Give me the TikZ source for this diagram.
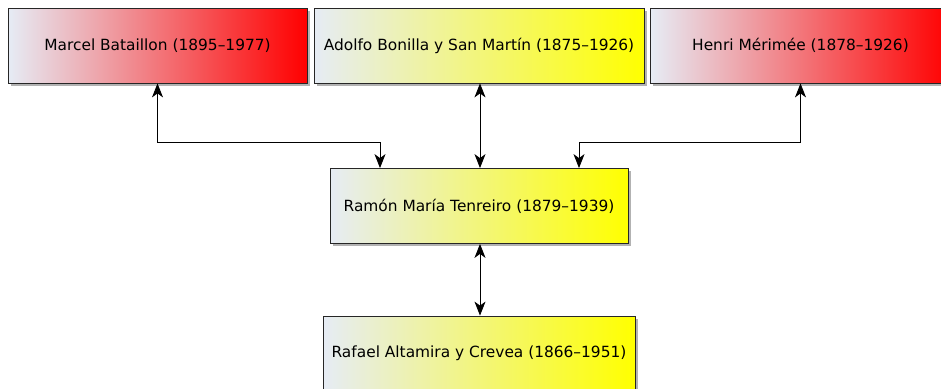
\documentclass[tikz,border=0pt]{standalone}
\usepackage{fontspec}
\setmainfont{DejaVu Sans}
\usetikzlibrary{arrows.meta,shadows}

\definecolor{paleblue}{RGB}{230,236,245}

\tikzset{
  person/.style={draw=black!85, line width=0.8pt, rectangle, minimum height=75pt,
    inner sep=0pt, font=\fontsize{15.4}{18}\selectfont,
    drop shadow={shadow xshift=2.5pt, shadow yshift=-2.5pt, opacity=0.5, fill=black!60}},
  redbox/.style={person, left color=paleblue, right color=red},
  yellowbox/.style={person, left color=paleblue, right color=yellow},
  link/.style={line width=0.9pt, {Stealth[length=14pt,width=11pt,inset=4pt]}-{Stealth[length=14pt,width=11pt,inset=4pt]}}
}

\begin{document}
\begin{tikzpicture}[x=1pt,y=-1pt]
\useasboundingbox (0,0) rectangle (941,388);

\node[redbox, minimum width=299pt] (bataillon) at (157.5,45.5) {Marcel Bataillon (1895–1977)};
\node[yellowbox, minimum width=330pt] (bonilla) at (479,45.5) {Adolfo Bonilla y San Martín (1875–1926)};
\node[redbox, minimum width=300pt] (merimee) at (800.5,45.5) {Henri Mérimée (1878–1926)};

\node[yellowbox, minimum width=298pt] (tenreiro) at (479,206) {Ramón María Tenreiro (1879–1939)};
\node[yellowbox, minimum width=312pt] (altamira) at (479,353.5) {Rafael Altamira y Crevea (1866–1951)};

\coordinate (inleft) at ([xshift=-99pt]tenreiro.north);
\coordinate (inright) at ([xshift=100pt]tenreiro.north);

\draw[link] (bataillon.south) -- (bataillon.south |- 0,142) -| (inleft);
\draw[link] (merimee.south) -- (merimee.south |- 0,142) -| (inright);
\draw[link] ([xshift=1pt]bonilla.south) -- ([xshift=1pt]tenreiro.north);
\draw[link] ([xshift=1pt]tenreiro.south) -- ([xshift=1pt]altamira.north);
\end{tikzpicture}
\end{document}
